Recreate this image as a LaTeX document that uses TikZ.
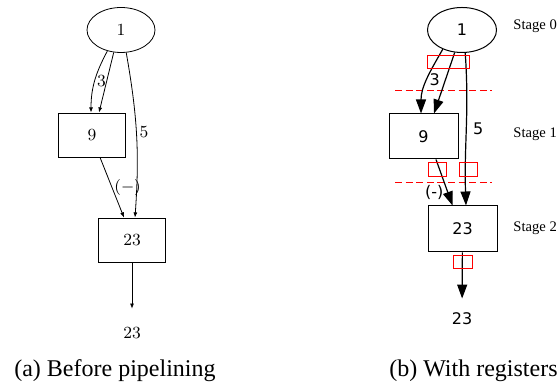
\documentclass[tikz,border=0pt]{standalone}
\usepackage{amsmath}
\usepackage{fontspec}
\newfontfamily\serifT{Liberation Serif}
\newfontfamily\sansD{DejaVu Sans}
\usepackage{tikz}
\usetikzlibrary{positioning}
\usetikzlibrary{shapes.geometric}
\usetikzlibrary{arrows.meta}

\begin{document}
\begin{tikzpicture}[x=0.5pt, y=0.5pt,
    elip/.style={draw, ellipse, minimum width=34pt, minimum height=22.5pt, inner sep=0pt},
    caja/.style={draw, rectangle, minimum width=33.5pt, minimum height=22pt, inner sep=0pt},
    registro/.style={draw=red, rectangle, inner sep=0pt, line width=0.5pt},
    etq/.style={font=\fontsize{8.5}{10}\selectfont},
    etqs/.style={font=\sansD\fontsize{8}{10}\selectfont},
    etapa/.style={font=\serifT\fontsize{7.3}{9}\selectfont, anchor=west, inner sep=0pt},
    corte/.style={draw=red, dash pattern=on 3.5pt off 1.8pt, line width=0.5pt},
    flechaA/.style={-{Latex[length=2.6pt,width=2pt]}},
    flechaB/.style={-{Triangle[length=7pt,width=5pt]}, line width=0.6pt}]
          \useasboundingbox (0,0) rectangle (560,383);

          % Nodos (a)
          \node[elip, etq] (e1a) at (121,353) {1};
          \node[caja, etq] (b9a) at (92,248) {9};
          \node[caja, etq] (b23a) at (132,143) {23};
          \node[etq, inner sep=0pt] (t23a) at (132,50) {23};

          % Aristas (a)
          \draw[flechaA] (e1a.237) to[out=-118, in=90] node[etq, right, inner sep=1pt, pos=0.5] {3} ([xshift=-0.5pt]b9a.north);
          \draw[flechaA] (e1a.252) -- ([xshift=3.5pt]b9a.north);
          \draw[flechaA] (e1a.283) to[out=-80, in=86] node[etq, right, inner sep=1.5pt, pos=0.48] {5} ([xshift=1.5pt]b23a.north);
          \draw[flechaA] ([xshift=4pt]b9a.south) -- node[etq, right, inner sep=1pt] {$(-)$} ([xshift=-4pt]b23a.north);
          \draw[flechaA, shorten >=9pt] (b23a) -- (t23a);

          % Nodos (b)
          \node[elip, etqs, minimum width=34.5pt, line width=0.5pt] (e1b) at (462,353) {1};
          \node[caja, etqs, minimum width=34.5pt, minimum height=22.5pt, line width=0.5pt] (b9b) at (423.5,246.5) {9};
          \node[caja, etqs, minimum width=34.5pt, minimum height=23pt, line width=0.5pt] (b23b) at (462.5,154) {23};
          \node[etqs, inner sep=0pt] (t23b) at (462,64) {23};

          % Etapas
          \node[etapa] (s0) at (513,357) {Stage 0};
          \node[etapa] (s1) at (513,249) {Stage 1};
          \node[etapa] (s2) at (513,155) {Stage 2};
          \coordinate (c0a) at (395,292);
          \coordinate (c0b) at (492,292);
          \coordinate (c1a) at (395,200);
          \coordinate (c1b) at (492,200);
          \path[corte] (c0a) -- (c0b);
          \path[corte] (c1a) -- (c1b);

          % Aristas (b)
          \draw[flechaB] (e1b.225) to[out=-120, in=90] node[etqs, right, inner sep=1pt, pos=0.5] {3} ([xshift=-1.25pt]b9b.north);
          \draw[flechaB] (e1b.252) -- ([xshift=5.25pt]b9b.north);
          \draw[flechaB] (e1b.278) to[out=-86, in=92] node[etqs, right, inner sep=3pt, pos=0.5] {5} ([xshift=1.75pt]b23b.north);
          \draw[flechaB] ([xshift=6.25pt]b9b.south) -- node[etqs, left, inner sep=2pt, pos=0.72] {(-)} ([xshift=-5pt]b23b.north);
          \draw[flechaB, shorten >=7pt] (b23b) -- (t23b);

          % Registros
          \node[registro, minimum width=21pt, minimum height=6.5pt] (r0) at (448,320.5) {};
          \node[registro, minimum width=9pt, minimum height=7pt] (r1a) at (437,213) {};
          \node[registro, minimum width=9pt, minimum height=7pt] (r1b) at (468,213) {};
          \node[registro, minimum width=9.5pt, minimum height=6.5pt] (r2) at (462.5,120.5) {};

          % Leyendas
          \node[font=\serifT\fontsize{12}{14}\selectfont, anchor=base east, inner sep=0pt] (capa) at (216,6) {(a) Before pipelining};
          \node[font=\serifT\fontsize{12}{14}\selectfont, anchor=base east, inner sep=0pt] (capb) at (558,6) {(b) With registers};

        \end{tikzpicture}
\end{document}
